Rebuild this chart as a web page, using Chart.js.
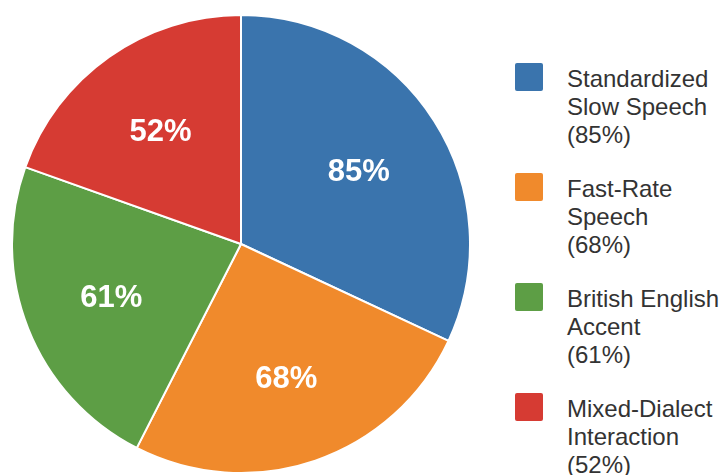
<!DOCTYPE html>
<html>
<head>
<meta charset="utf-8">
<script src="https://cdn.jsdelivr.net/npm/chart.js@4"></script>
<style>
  body{margin:0;background:#fff;width:725px;height:475px;overflow:hidden;position:relative;font-family:"Liberation Sans",Arial,sans-serif;}
  #wrap{position:absolute;left:11px;top:14px;width:460px;height:460px;}
  #legend{position:absolute;left:515px;top:62px;}
  .item{position:relative;height:110px;}
  .box{position:absolute;left:0;top:1px;width:28px;height:28px;border-radius:2px;}
  .txt{position:absolute;left:52px;top:3px;font-size:24px;line-height:28px;color:#333;white-space:nowrap;}
</style>
</head>
<body>
<div id="wrap"><canvas id="pie"></canvas></div>
<div id="legend"></div>
<script>
// ---------- DATA ----------
const labelLines = [['Standardized','Slow Speech'],['Fast-Rate','Speech'],['British English','Accent'],['Mixed-Dialect','Interaction']];
const values = [85, 68, 61, 52];
const colors = ['#3a74ad','#f08a2c','#5d9e45','#d63b33'];

// ---------- LEGEND ----------
const legend = document.getElementById('legend');
labelLines.forEach((lines,i)=>{
  const item = document.createElement('div');
  item.className = 'item';
  item.innerHTML = `<div class="box" style="background:${colors[i]}"></div>` +
    `<div class="txt">${lines.join('<br>')}<br>(${values[i]}%)</div>`;
  legend.appendChild(item);
});

// ---------- SLICE LABELS ----------
const sliceLabels = {
  id:'sliceLabels',
  afterDatasetsDraw(chart){
    const ctx = chart.ctx;
    const meta = chart.getDatasetMeta(0);
    ctx.save();
    ctx.fillStyle = '#fff';
    ctx.font = 'bold 31px "Liberation Sans", Arial, sans-serif';
    ctx.textAlign = 'center';
    ctx.textBaseline = 'middle';
    meta.data.forEach((arc,i)=>{
      const mid = (arc.startAngle + arc.endAngle)/2;
      const r = arc.outerRadius*0.61;
      ctx.fillText(values[i]+'%', arc.x + Math.cos(mid)*r, arc.y + Math.sin(mid)*r + 3);
    });
    ctx.restore();
  }
};

// ---------- CHART ----------
new Chart(document.getElementById('pie'),{
  type:'pie',
  data:{
    labels:labelLines.map(l=>l.join(' ')),
    datasets:[{data:values, backgroundColor:colors, borderColor:'#fff', borderWidth:2}]
  },
  options:{
    responsive:true, maintainAspectRatio:false, animation:false,
    layout:{padding:0},
    plugins:{legend:{display:false}, tooltip:{enabled:false}}
  },
  plugins:[sliceLabels]
});
</script>
</body>
</html>
